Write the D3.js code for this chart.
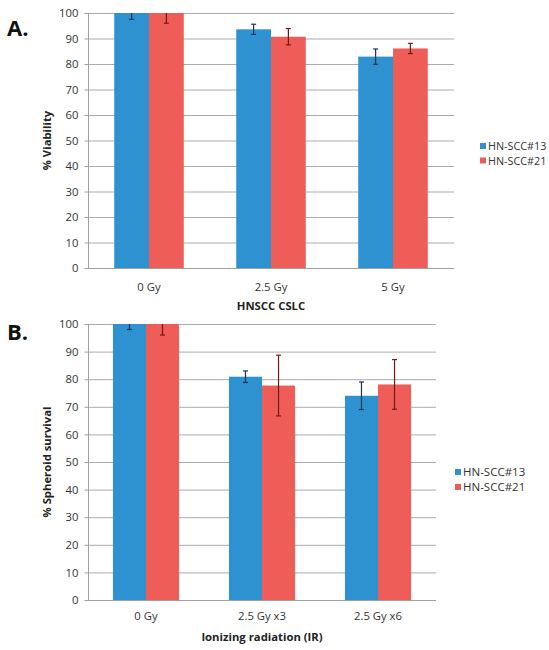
<!DOCTYPE html>
<html><head><meta charset="utf-8">
<script src="https://cdn.jsdelivr.net/npm/d3@7"></script>
<style>body{margin:0;background:#fff}svg{display:block}text{font-family:"Open Sans",Lato,sans-serif}</style>
</head><body><svg id="c" width="549" height="650"></svg>
<script>
const seriesNames = ["HN-SCC#13", "HN-SCC#21"];
const yTicks = [0,10,20,30,40,50,60,70,80,90,100];

const catsA = ["0 Gy", "2.5 Gy", "5 Gy"];
const valsA13 = [100, 93.6, 82.9];
const valsA21 = [100, 90.7, 86.1];
const errA13 = [2.5, 2.0, 3.0];
const errA21 = [4.0, 3.2, 2.0];

const catsB = ["0 Gy", "2.5 Gy x3", "2.5 Gy x6"];
const valsB13 = [100, 80.9, 74.0];
const valsB21 = [100, 77.7, 78.1];
const errB13 = [2.0, 2.1, 5.0];
const errB21 = [4.0, 11.0, 9.0];

const colors = ["#2e92d0", "#ef5d58"];
const errColors = ["#1b3550", "#6e1a1a"];

const svg = d3.select("#c");

function panel(o) {
  const g = svg.append("g");
  const x = d3.scaleBand().domain(o.cats).range([o.x0, o.x1]).paddingInner(o.pad).paddingOuter(o.pad/2);
  const y = d3.scaleLinear().domain([0,100]).range([o.y0, o.y1]);
  const xs = d3.scaleBand().domain([0,1]).range([0, x.bandwidth()]);
  g.append("g").selectAll("line").data(yTicks).join("line")
    .attr("x1", o.x0).attr("x2", o.x1).attr("y1", d=>y(d)+0.5).attr("y2", d=>y(d)+0.5)
    .attr("stroke", "#ababab").attr("stroke-width", 1);
  const ya = g.append("g").attr("transform", `translate(${o.x0+0.5},0)`)
    .call(d3.axisLeft(y).tickValues(yTicks).tickSize(4).tickPadding(6));
  ya.select(".domain").attr("stroke", "#a0a0a0").attr("d", `M0,${y(0)}V${y(100)}`);
  ya.selectAll(".tick line").attr("stroke", "#a0a0a0");
  ya.selectAll("text").attr("font-size", o.fs).attr("fill", "#333");
  const series = [o.v13, o.v21];
  const errs = [o.e13, o.e21];
  series.forEach((vals, si) => {
    g.append("g").selectAll("rect").data(vals).join("rect")
      .attr("x", (d,i)=>x(o.cats[i]) + xs(si))
      .attr("width", xs.bandwidth())
      .attr("y", d=>y(d)).attr("height", d=>y(0)-y(d))
      .attr("fill", colors[si]);
  });
  series.forEach((vals, si) => {
    const eg = g.append("g").attr("stroke", errColors[si]).attr("stroke-width", 1.2);
    vals.forEach((v,i) => {
      const cx = x(o.cats[i]) + xs(si) + xs.bandwidth()/2;
      const top = Math.min(100, v + errs[si][i]);
      const hi = y(top), lo = y(v - errs[si][i]);
      eg.append("line").attr("x1", cx).attr("x2", cx).attr("y1", hi).attr("y2", lo);
      if (v + errs[si][i] <= 100) eg.append("line").attr("x1", cx-2.5).attr("x2", cx+2.5).attr("y1", hi).attr("y2", hi);
      eg.append("line").attr("x1", cx-2.5).attr("x2", cx+2.5).attr("y1", lo).attr("y2", lo);
    });
  });
  g.append("line").attr("x1", o.x0).attr("x2", o.x1).attr("y1", y(0)+0.5).attr("y2", y(0)+0.5)
    .attr("stroke", "#a0a0a0");
  g.append("g").selectAll("text").data(o.cats).join("text")
    .attr("x", d=>x(d)+x.bandwidth()/2).attr("y", o.xlY).attr("text-anchor", "middle")
    .attr("font-size", o.fs).attr("fill", "#333").text(d=>d);
  g.append("text").attr("x", (o.x0+o.x1)/2).attr("y", o.xtY).attr("text-anchor", "middle")
    .attr("font-size", o.fs).attr("font-weight", "bold").attr("fill", "#222").text(o.xTitle);
  g.append("text").attr("transform", `translate(${o.ytX},${(o.y0+o.y1)/2}) rotate(-90)`)
    .attr("text-anchor", "middle").attr("font-size", o.fs).attr("font-weight", "bold").attr("fill", "#222").text(o.yTitle);
  g.append("text").attr("x", 7).attr("y", o.letterY).attr("font-size", 22).attr("font-weight", "bold")
    .attr("fill", "#111").text(o.letter);
  seriesNames.forEach((s, i) => {
    const ly = o.legY + i*o.legGap;
    g.append("rect").attr("x", o.legX).attr("y", ly-3).attr("width", 6).attr("height", 6).attr("fill", colors[i]);
    g.append("text").attr("x", o.legX+8).attr("y", ly+4).attr("font-size", o.legFs).attr("fill", "#333").text(s);
  });
}

panel({cats: catsA, v13: valsA13, v21: valsA21, e13: errA13, e21: errA21,
  x0: 88, x1: 454, y0: 268, y1: 13, pad: 0.43, fs: 11.3, xlY: 291, xtY: 310,
  xTitle: "HNSCC CSLC", yTitle: "% Viability", ytX: 51, letter: "A.", letterY: 36,
  legX: 480, legY: 146, legGap: 14.5, legFs: 10.8});

panel({cats: catsB, v13: valsB13, v21: valsB21, e13: errB13, e21: errB21,
  x0: 88, x1: 436, y0: 600, y1: 324, pad: 0.43, fs: 11.3, xlY: 620, xtY: 641,
  xTitle: "Ionizing radiation (IR)", yTitle: "% Spheroid survival", ytX: 51, letter: "B.", letterY: 340,
  legX: 455, legY: 472, legGap: 15, legFs: 11.5});
</script></body></html>
